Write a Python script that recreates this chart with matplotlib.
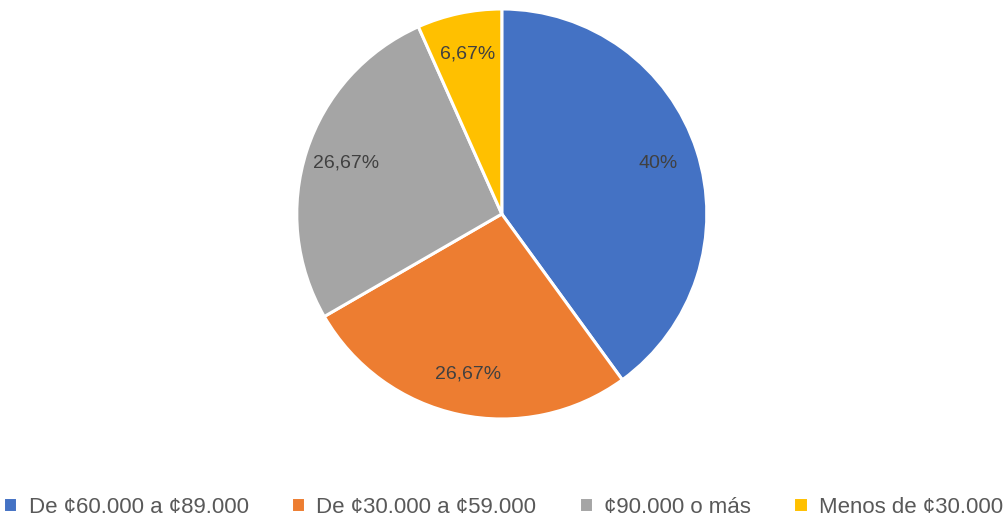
import numpy as np
import matplotlib.pyplot as plt

# Data
categories = ['De ¢60.000 a ¢89.000', 'De ¢30.000 a ¢59.000', '¢90.000 o más', 'Menos de ¢30.000']
values = [40.0, 26.67, 26.67, 6.67]
colors = ['#4472C4', '#ED7D31', '#A5A5A5', '#FFC000']

plt.rcParams['font.family'] = ['Liberation Sans', 'DejaVu Sans']


def fmt(v):
    s = ('%.2f' % v).rstrip('0').rstrip('.')
    return s.replace('.', ',') + '%'


fig = plt.figure(figsize=(10.06, 5.16), dpi=100)
ax = fig.add_axes([0.295, 0.188, 0.4076, 0.7946])
wedges, texts = ax.pie(values, colors=colors, startangle=90, counterclock=False,
                       wedgeprops=dict(edgecolor='white', linewidth=2.2))
ax.set_xlim(-1, 1)
ax.set_ylim(-1, 1)
ax.set_aspect('equal')

for w, v in zip(wedges, values):
    ang = np.deg2rad((w.theta1 + w.theta2) / 2)
    ax.text(0.8 * np.cos(ang), 0.8 * np.sin(ang), fmt(v), ha='center', va='center',
            fontsize=14, color='#404040')

fig.legend(wedges, categories, loc='lower center', ncol=4, frameon=False,
           bbox_to_anchor=(0.5, -0.042), fontsize=16, handlelength=0.65, handleheight=0.65,
           handletextpad=0.5, columnspacing=1.9, labelcolor='#595959')

fig.savefig('out.png', dpi=100)
